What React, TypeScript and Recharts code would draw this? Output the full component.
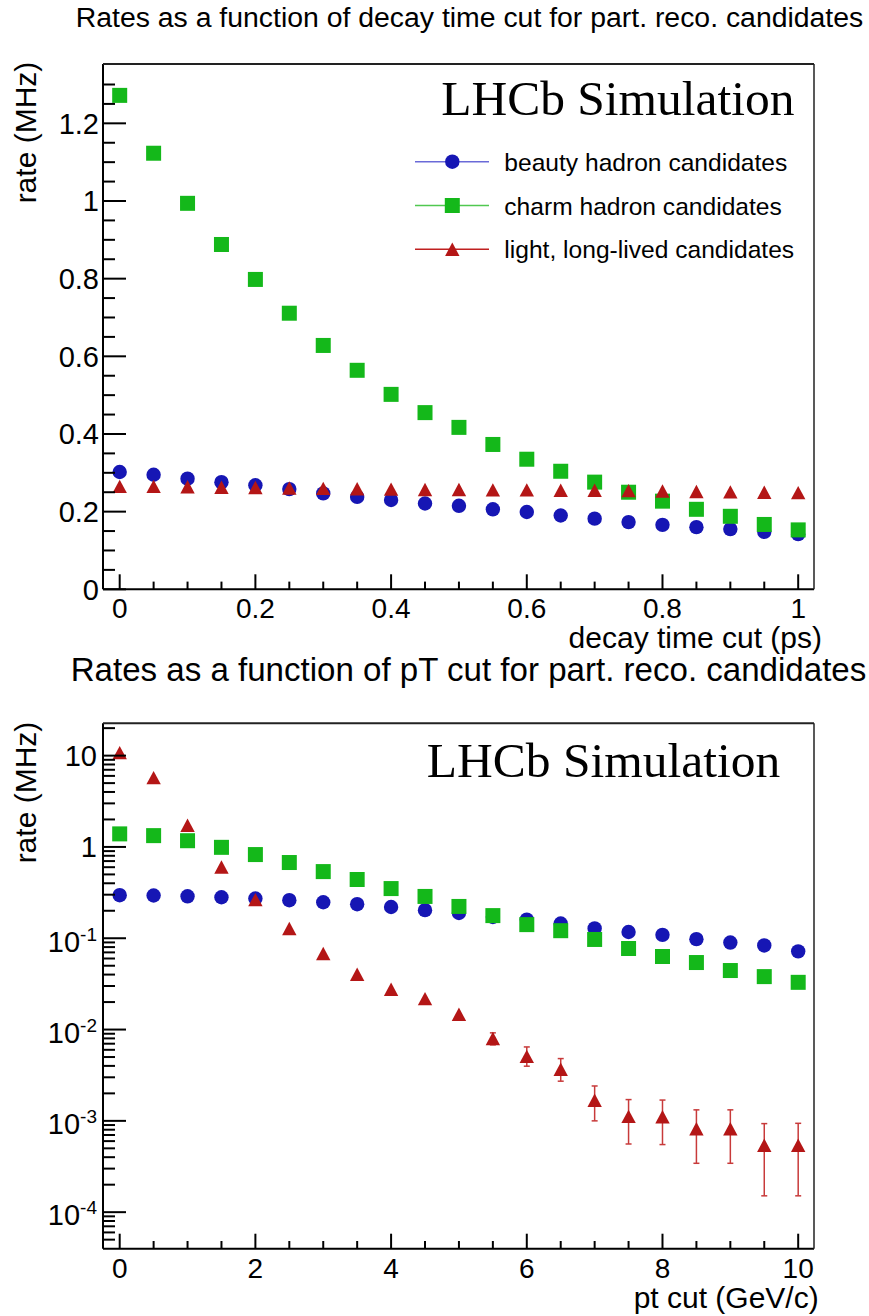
import React from 'react';
import { ScatterChart, Scatter, XAxis, YAxis, ErrorBar } from 'recharts';

// ---------- data: top panel (decay time cut) ----------
const decayCuts = [0, 0.05, 0.1, 0.15, 0.2, 0.25, 0.3, 0.35, 0.4, 0.45, 0.5, 0.55, 0.6, 0.65, 0.7, 0.75, 0.8, 0.85, 0.9, 0.95, 1];
const beautyDecay = [0.302, 0.295, 0.285, 0.276, 0.268, 0.258, 0.247, 0.238, 0.23, 0.221, 0.215, 0.206, 0.199, 0.19, 0.182, 0.173, 0.166, 0.16, 0.155, 0.148, 0.142];
const charmDecay = [1.272, 1.123, 0.994, 0.888, 0.798, 0.711, 0.628, 0.564, 0.502, 0.455, 0.417, 0.373, 0.335, 0.304, 0.276, 0.25, 0.227, 0.206, 0.188, 0.167, 0.153];
const lightDecay = [0.265, 0.265, 0.264, 0.263, 0.262, 0.261, 0.26, 0.259, 0.258, 0.257, 0.257, 0.256, 0.256, 0.255, 0.255, 0.254, 0.253, 0.252, 0.251, 0.25, 0.249];

// ---------- data: bottom panel (pT cut) ----------
const ptCuts = [0, 0.5, 1, 1.5, 2, 2.5, 3, 3.5, 4, 4.5, 5, 5.5, 6, 6.5, 7, 7.5, 8, 8.5, 9, 9.5, 10];
const beautyPt = [0.296, 0.294, 0.288, 0.281, 0.272, 0.261, 0.248, 0.236, 0.22, 0.203, 0.189, 0.171, 0.16, 0.145, 0.128, 0.117, 0.109, 0.0977, 0.0897, 0.0834, 0.0719];
const charmPt = [1.39, 1.33, 1.17, 0.99, 0.825, 0.675, 0.537, 0.44, 0.35, 0.287, 0.223, 0.177, 0.141, 0.121, 0.097, 0.0772, 0.0631, 0.0542, 0.0443, 0.038, 0.0329];
const lightPt = [10.8, 5.75, 1.73, 0.604, 0.265, 0.128, 0.068, 0.0403, 0.0276, 0.0218, 0.0147, 0.00797, 0.00509, 0.00367, 0.00168, 0.00112, 0.00111, 0.00082, 0.00082, 0.00054, 0.00054];
const lightPtLow = [null, null, null, null, null, null, null, null, null, null, null, 0.0068, 0.00397, 0.00272, 0.001, 0.000558, 0.00055, 0.000343, 0.000343, 0.000151, 0.000151];
const lightPtHigh = [null, null, null, null, null, null, null, null, null, null, null, 0.0092, 0.00645, 0.00481, 0.00241, 0.00171, 0.00169, 0.00132, 0.00132, 0.000933, 0.00094];

// ---------- series / legend ----------
const seriesNames = ['beauty hadron candidates', 'charm hadron candidates', 'light, long-lived candidates'];
const seriesColors = ['#1616b4', '#14b81a', '#b41616'];
const legendLineColors = ['#6a6ad8', '#50c850', '#c02020'];
const seriesShapes = ['circle', 'square', 'triangle'];

// ---------- ticks ----------
const decayXTicks = decayCuts;
const decayXMajor = [0, 0.2, 0.4, 0.6, 0.8, 1];
const decayXLabels = ['0', '0.2', '0.4', '0.6', '0.8', '1'];
const decayYTicks = [0, 0.05, 0.1, 0.15, 0.2, 0.25, 0.3, 0.35, 0.4, 0.45, 0.5, 0.55, 0.6, 0.65, 0.7, 0.75, 0.8, 0.85, 0.9, 0.95, 1, 1.05, 1.1, 1.15, 1.2, 1.25, 1.3];
const decayYMajor = [0, 0.2, 0.4, 0.6, 0.8, 1, 1.2];
const decayYLabels = ['0', '0.2', '0.4', '0.6', '0.8', '1', '1.2'];

const ptXTicks = ptCuts;
const ptXMajor = [0, 2, 4, 6, 8, 10];
const ptXLabels = ['0', '2', '4', '6', '8', '10'];
const logDecades = [1e-5, 1e-4, 1e-3, 1e-2, 1e-1, 1, 10];
const logMultipliers = [1, 2, 3, 4, 5, 6, 7, 8, 9];
const logMajor = [1e-4, 1e-3, 1e-2, 1e-1, 1, 10];
const logMajorBase = ['10', '10', '10', '10', '1', '10'];
const logMajorExp = ['-4', '-3', '-2', '-1', '', ''];

const decayXDomain = [-0.0246, 1.0233];
const decayYDomain = [0, 1.3528];
const ptXDomain = [-0.246, 10.233];
const ptYDomain = [3.98e-5, 22.6];

const logTicks = logDecades
  .flatMap((d) => logMultipliers.map((m) => m * d))
  .filter((v) => v > ptYDomain[0] * 1.05 && v < ptYDomain[1]);

const FONT = '"Liberation Sans", Arial, Helvetica, sans-serif';
const SERIF = '"Liberation Serif", "Times New Roman", serif';

const findIdx = (arr: number[], v: number) =>
  arr.findIndex((a) => Math.abs(a - v) <= 1e-9 * Math.max(1, Math.abs(a)));

const shapeFor = (kind: string, color: string) => (p: any) => {
  const cx = p.cx;
  const cy = p.cy;
  if (cx == null || cy == null || isNaN(cx) || isNaN(cy)) return <g />;
  if (kind === 'circle') return <circle cx={cx} cy={cy} r={7.2} fill={color} />;
  if (kind === 'square') return <rect x={cx - 7.5} y={cy - 7.5} width={15} height={15} fill={color} />;
  return (
    <polygon
      points={`${cx - 7.2},${cy + 6.7} ${cx + 7.2},${cy + 6.7} ${cx},${cy - 6.7}`}
      fill={color}
    />
  );
};

const Marker = ({ kind, color, cx, cy }: any) => shapeFor(kind, color)({ cx, cy });

const makeXTick = (majors: number[], labels: string[]) => (props: any) => {
  const { x, y, payload } = props;
  const idx = findIdx(majors, payload.value);
  const major = idx >= 0;
  return (
    <g>
      <line x1={x} x2={x} y1={y} y2={y - (major ? 15 : 7.7)} stroke="#000" strokeWidth={2} />
      {major && (
        <text x={x} y={y + 29} textAnchor="middle" fontSize={28} fontFamily={FONT} fill="#000">
          {labels[idx]}
        </text>
      )}
    </g>
  );
};

const makeLinYTick = (majors: number[], labels: string[]) => (props: any) => {
  const { x, y, payload } = props;
  const idx = findIdx(majors, payload.value);
  const major = idx >= 0;
  return (
    <g>
      <line x1={x} x2={x + (major ? 23 : 12)} y1={y} y2={y} stroke="#000" strokeWidth={2} />
      {major && (
        <text x={x - 4} y={y + 10.3} textAnchor="end" fontSize={29} fontFamily={FONT} fill="#000">
          {labels[idx]}
        </text>
      )}
    </g>
  );
};

const LogYTick = (props: any) => {
  const { x, y, payload } = props;
  const idx = findIdx(logMajor, payload.value);
  const major = idx >= 0;
  const exp = major ? logMajorExp[idx] : '';
  return (
    <g>
      <line x1={x} x2={x + (major ? 23 : 12)} y1={y} y2={y} stroke="#000" strokeWidth={2} />
      {major && (
        <text
          x={x - 6}
          y={y + (exp ? 13.3 : 10.3)}
          textAnchor="end"
          fontSize={29}
          fontFamily={FONT}
          fill="#000"
        >
          <tspan>{logMajorBase[idx]}</tspan>
          {exp && (
            <tspan dy={-11} fontSize={19}>
              {exp}
            </tspan>
          )}
        </text>
      )}
    </g>
  );
};

const toPoints = (xs: number[], ys: number[]) => xs.map((x, i) => ({ x, y: ys[i] }));

const lightPtData = ptCuts.map((x, i) => {
  const v = lightPt[i];
  const lo = lightPtLow[i];
  const hi = lightPtHigh[i];
  return { x, y: v, err: lo != null && hi != null ? [v - lo, hi - v] : null };
});

const frameAxes = (xDomain: number[], yDomain: number[], yScale: any) => [
  <XAxis
    key="xt"
    xAxisId="top"
    orientation="top"
    type="number"
    dataKey="x"
    domain={xDomain}
    allowDataOverflow
    height={1}
    tick={false}
    tickLine={false}
    axisLine={{ stroke: '#222', strokeWidth: 2 }}
  />,
  <YAxis
    key="yr"
    yAxisId="right"
    orientation="right"
    type="number"
    dataKey="y"
    scale={yScale}
    domain={yDomain}
    allowDataOverflow
    width={1}
    tick={false}
    tickLine={false}
    axisLine={{ stroke: '#222', strokeWidth: 1.5 }}
  />,
];

export default function App() {
  const topSeries = [beautyDecay, charmDecay, lightDecay];
  const botSeries = [beautyPt, charmPt];
  return (
    <div
      style={{
        position: 'absolute',
        left: 0,
        top: 0,
        width: 869,
        height: 1316,
        background: '#fff',
        fontFamily: FONT,
      }}
    >
      <div style={{ position: 'absolute', left: 0, top: 0 }}>
        <ScatterChart width={869} height={658} margin={{ top: 63, right: 54, bottom: 67.7, left: 102 }}>
          <XAxis
            type="number"
            dataKey="x"
            domain={decayXDomain}
            allowDataOverflow
            ticks={decayXTicks}
            interval={0}
            height={1}
            tickSize={0}
            tickMargin={0}
            tickLine={false}
            axisLine={{ stroke: '#000', strokeWidth: 2 }}
            tick={makeXTick(decayXMajor, decayXLabels)}
          />
          <YAxis
            type="number"
            dataKey="y"
            domain={decayYDomain}
            allowDataOverflow
            ticks={decayYTicks}
            interval={0}
            width={1}
            tickSize={0}
            tickMargin={0}
            tickLine={false}
            axisLine={{ stroke: '#000', strokeWidth: 2 }}
            tick={makeLinYTick(decayYMajor, decayYLabels)}
          />
          {frameAxes(decayXDomain, decayYDomain, 'linear')}
          {topSeries.map((ys, i) => (
            <Scatter
              key={seriesNames[i]}
              name={seriesNames[i]}
              data={toPoints(decayCuts, ys)}
              fill={seriesColors[i]}
              shape={shapeFor(seriesShapes[i], seriesColors[i])}
              isAnimationActive={false}
            />
          ))}
        </ScatterChart>
      </div>

      <div style={{ position: 'absolute', left: 0, top: 658 }}>
        <ScatterChart width={869} height={658} margin={{ top: 64.3, right: 54, bottom: 66.3, left: 102 }}>
          <XAxis
            type="number"
            dataKey="x"
            domain={ptXDomain}
            allowDataOverflow
            ticks={ptXTicks}
            interval={0}
            height={1}
            tickSize={0}
            tickMargin={0}
            tickLine={false}
            axisLine={{ stroke: '#000', strokeWidth: 2 }}
            tick={makeXTick(ptXMajor, ptXLabels)}
          />
          <YAxis
            type="number"
            dataKey="y"
            scale="log"
            domain={ptYDomain}
            allowDataOverflow
            ticks={logTicks}
            interval={0}
            width={1}
            tickSize={0}
            tickMargin={0}
            tickLine={false}
            axisLine={{ stroke: '#000', strokeWidth: 2 }}
            tick={LogYTick}
          />
          {frameAxes(ptXDomain, ptYDomain, 'log')}
          {botSeries.map((ys, i) => (
            <Scatter
              key={seriesNames[i]}
              name={seriesNames[i]}
              data={toPoints(ptCuts, ys)}
              fill={seriesColors[i]}
              shape={shapeFor(seriesShapes[i], seriesColors[i])}
              isAnimationActive={false}
            />
          ))}
          <Scatter
            name={seriesNames[2]}
            data={lightPtData}
            fill={seriesColors[2]}
            shape={shapeFor(seriesShapes[2], seriesColors[2])}
            isAnimationActive={false}
          >
            <ErrorBar dataKey="err" direction="y" width={3} stroke="#c83a3a" strokeWidth={1.5} />
          </Scatter>
        </ScatterChart>
      </div>

      <svg
        width={869}
        height={1316}
        style={{ position: 'absolute', left: 0, top: 0, pointerEvents: 'none' }}
      >
        {/* titles */}
        <text x={469.5} y={27} textAnchor="middle" fontSize={28.4} fontFamily={FONT} fill="#000">
          Rates as a function of decay time cut for part. reco. candidates
        </text>
        <text x={468.5} y={681} textAnchor="middle" fontSize={33.1} fontFamily={FONT} fill="#000">
          Rates as a function of pT cut for part. reco. candidates
        </text>

        {/* LHCb labels */}
        <text x={441.2} y={115} fontSize={49.5} fontFamily={SERIF} fill="#000">
          LHCb Simulation
        </text>
        <text x={426.8} y={776.7} fontSize={49.5} fontFamily={SERIF} fill="#000">
          LHCb Simulation
        </text>

        {/* axis titles */}
        <text
          transform="translate(36,61.7) rotate(-90)"
          textAnchor="end"
          fontSize={30}
          fontFamily={FONT}
          fill="#000"
        >
          rate (MHz)
        </text>
        <text
          transform="translate(36,721.7) rotate(-90)"
          textAnchor="end"
          fontSize={30}
          fontFamily={FONT}
          fill="#000"
        >
          rate (MHz)
        </text>
        <text x={822} y={648} textAnchor="end" fontSize={30} fontFamily={FONT} fill="#000">
          decay time cut (ps)
        </text>
        <text x={818.7} y={1307.5} textAnchor="end" fontSize={30} fontFamily={FONT} fill="#000">
          pt cut (GeV/c)
        </text>

        {/* legend */}
        {seriesNames.map((name, i) => {
          const ry = 161.7 + i * 43.8;
          return (
            <g key={name}>
              <line x1={415} x2={489} y1={ry} y2={ry} stroke={legendLineColors[i]} strokeWidth={1.5} />
              <Marker kind={seriesShapes[i]} color={seriesColors[i]} cx={452.3} cy={ry} />
              <text x={504.3} y={ry + 9} fontSize={24.6} fontFamily={FONT} fill="#000">
                {name}
              </text>
            </g>
          );
        })}
      </svg>
    </div>
  );
}
